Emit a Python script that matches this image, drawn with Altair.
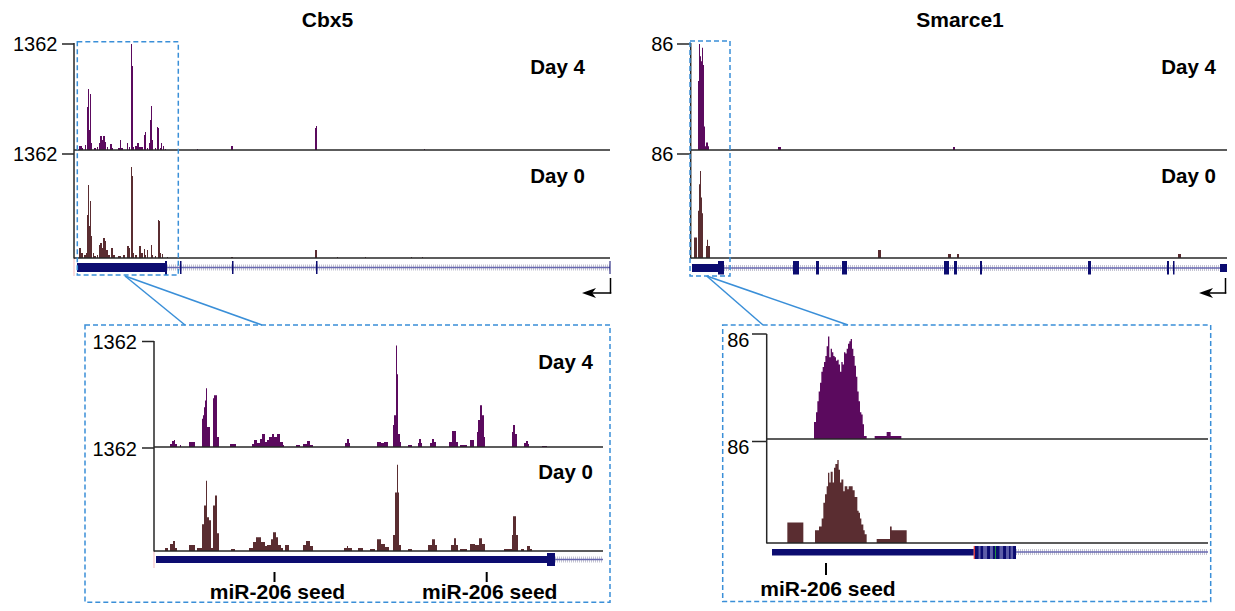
import altair as alt
import pandas as pd

# ---------------- data ----------------
# Top panels: read coverage along each locus, (start bin, end bin, reads); 1 bin ~ 100 bp
CBX5_DAY4 = [(5, 8, 51), (8, 9, 26), (11, 12, 64), (13, 14, 553), (14, 15, 784), (15, 16, 257),
             (16, 17, 720), (17, 18, 90), (20, 22, 26), (23, 24, 39), (25, 26, 90), (26, 28, 180),
             (28, 29, 128), (29, 31, 180), (31, 32, 103), (33, 34, 39), (36, 38, 77), (38, 39, 26),
             (44, 46, 26), (46, 47, 128), (47, 49, 26), (53, 54, 90), (55, 56, 39), (57, 58, 1362),
             (58, 59, 1080), (59, 60, 39), (61, 63, 51), (63, 65, 90), (65, 69, 39), (70, 71, 193),
             (71, 72, 231), (73, 74, 26), (75, 76, 90), (76, 77, 386), (77, 78, 565), (78, 79, 128),
             (81, 82, 26), (83, 84, 296), (84, 85, 283), (86, 87, 26), (87, 88, 90), (89, 90, 51),
             (91, 92, 13), (123, 124, 13), (157, 159, 51), (241, 242, 283), (242, 243, 308), (350, 351, 13)]
CBX5_DAY0 = [(5, 7, 131), (7, 9, 66), (10, 12, 39), (12, 13, 66), (13, 14, 563), (14, 15, 956),
             (15, 16, 419), (16, 17, 747), (17, 18, 288), (19, 20, 66), (20, 22, 26), (23, 24, 39),
             (25, 26, 170), (26, 28, 197), (28, 29, 131), (29, 31, 262), (31, 32, 223), (32, 34, 105),
             (34, 36, 39), (37, 39, 131), (39, 41, 39), (44, 47, 26), (49, 51, 39), (53, 55, 157),
             (55, 56, 131), (57, 58, 1192), (58, 59, 1074), (59, 60, 66), (61, 63, 39), (65, 67, 157),
             (67, 69, 66), (70, 71, 118), (71, 72, 39), (73, 74, 105), (77, 78, 170), (78, 79, 39),
             (81, 82, 26), (84, 85, 498), (85, 86, 485), (86, 87, 66), (88, 89, 52), (93, 94, 13),
             (157, 159, 13), (241, 243, 105), (263, 264, 13), (291, 292, 13), (337, 338, 13), (348, 349, 13)]
SMARCE1_DAY4 = [(8, 9, 56), (9, 10, 86), (10, 11, 76), (11, 12, 72), (12, 13, 83), (13, 14, 69),
                (14, 15, 19), (15, 16, 3), (16, 18, 6), (18, 19, 3), (88, 91, 2.4), (263, 265, 2.4)]
SMARCE1_DAY0 = [(4, 7, 17), (8, 9, 39), (9, 10, 61), (10, 11, 72), (11, 12, 50), (12, 13, 37),
                (16, 17, 10), (17, 18, 15), (18, 20, 10), (188, 191, 6.6), (258, 261, 3.3),
                (267, 269, 3.3), (488, 491, 3.3)]

# Zoomed 3' UTR panels: finer bins
CBX5_UTR_DAY4 = [(15, 17, 39), (17, 19, 77), (19, 20, 90), (20, 22, 39), (25, 26, 26), (34, 40, 64),
                 (47, 48, 364), (48, 49, 411), (49, 50, 514), (50, 51, 600), (51, 52, 758), (52, 55, 257),
                 (58, 59, 630), (59, 62, 668), (62, 64, 128), (75, 81, 39), (97, 99, 39), (99, 102, 90),
                 (102, 105, 51), (105, 107, 103), (107, 110, 167), (110, 112, 64), (112, 114, 90),
                 (114, 117, 128), (117, 119, 167), (119, 122, 128), (122, 125, 167), (125, 128, 64),
                 (128, 129, 26), (141, 145, 26), (148, 152, 39), (152, 155, 77), (155, 158, 26),
                 (190, 192, 51), (192, 194, 103), (194, 195, 51), (222, 226, 64), (226, 229, 51),
                 (229, 233, 64), (238, 239, 283), (239, 241, 411), (241, 242, 1310), (242, 243, 938),
                 (243, 245, 167), (245, 246, 64), (253, 257, 26), (263, 264, 51), (264, 266, 103),
                 (266, 267, 51), (275, 277, 51), (277, 279, 103), (279, 281, 64), (294, 297, 64),
                 (297, 301, 206), (301, 303, 64), (305, 312, 26), (315, 319, 90), (322, 323, 193),
                 (323, 325, 347), (325, 327, 540), (327, 329, 411), (329, 330, 128), (357, 358, 193),
                 (358, 360, 283), (360, 362, 167), (369, 371, 51), (371, 373, 77), (373, 374, 39),
                 (387, 392, 13)]
CBX5_UTR_DAY0 = [(10, 13, 39), (15, 18, 92), (18, 20, 131), (20, 22, 39), (34, 40, 79), (42, 47, 39),
                 (47, 49, 354), (49, 51, 603), (51, 52, 930), (52, 54, 445), (54, 56, 406), (56, 58, 39),
                 (58, 60, 603), (60, 62, 734), (62, 64, 236), (76, 80, 26), (94, 98, 39), (98, 101, 118),
                 (101, 106, 183), (106, 110, 118), (110, 112, 66), (112, 116, 79), (116, 118, 157),
                 (118, 121, 249), (121, 123, 183), (123, 126, 79), (126, 128, 39), (130, 134, 79),
                 (148, 151, 79), (151, 155, 131), (155, 158, 66), (189, 192, 39), (192, 193, 66),
                 (193, 197, 39), (203, 208, 39), (215, 220, 26), (222, 226, 157), (226, 230, 92),
                 (230, 234, 52), (238, 240, 210), (240, 242, 773), (242, 243, 1140), (243, 244, 773),
                 (244, 246, 79), (253, 257, 26), (273, 277, 79), (277, 280, 157), (280, 282, 79),
                 (296, 299, 79), (299, 301, 170), (301, 303, 79), (305, 312, 26), (315, 320, 92),
                 (320, 324, 79), (324, 327, 170), (327, 330, 92), (349, 357, 26), (357, 358, 210),
                 (358, 361, 459), (361, 363, 210), (366, 369, 26), (372, 375, 66), (375, 377, 26)]
SMARCE1_UTR_DAY4 = [(35.5, 37, 14), (37, 38, 22), (38, 39, 31), (39, 40, 39), (40, 41, 46), (41, 42, 55),
                    (42, 43, 59), (43, 44, 63), (44, 45, 68), (45, 46, 76), (46, 47, 84), (47, 48, 67),
                    (48, 49, 74), (49, 50, 71), (50, 51, 68), (51, 52, 67), (52, 53, 64), (53, 54, 65),
                    (54, 55, 61), (55, 56, 55), (56, 57, 63), (57, 58, 61), (58, 59, 71), (59, 60, 70),
                    (60, 61, 74), (61, 62, 78), (62, 63, 80), (63, 64, 82), (64, 65, 74), (65, 66, 68),
                    (66, 67, 60), (67, 68, 51), (68, 69, 39), (69, 70, 31), (70, 71, 22), (71, 72, 20),
                    (72, 73, 12), (73, 75, 2.5), (81, 90, 2.5), (90, 93, 5.8), (93, 101, 2.5)]
SMARCE1_UTR_DAY0 = [(15.5, 27.5, 17.4), (36.25, 39.25, 10.8), (39.25, 41.25, 14), (41.25, 42.5, 20.7),
                    (42.5, 43.75, 34), (43.75, 45, 41.4), (45, 46, 48), (46, 47, 59.5), (47, 48, 51.3),
                    (48, 49.5, 60.4), (49.5, 50.5, 51.3), (50.5, 51.5, 63.7), (51.5, 53, 67), (53, 54, 70.3),
                    (54, 55, 62), (55, 56, 51.3), (56, 57.5, 53.8), (57.5, 58.5, 43.8), (58.5, 60.5, 48),
                    (60.5, 61.5, 45.5), (61.5, 64.5, 48), (64.5, 66, 44.7), (66, 68, 38.9), (68, 69, 27.3),
                    (69, 70, 25.6), (70, 71, 20.7), (71, 72.5, 15.7), (72.5, 73.5, 10.8), (73.5, 75, 7.4),
                    (82.5, 92.5, 3.3), (92.5, 93.75, 14), (93.75, 95, 10.8), (95, 105, 10.8)]

CBX5_MAX = 1362
SMARCE1_MAX = 86
TRACK_NAMES = ["Day 4", "Day 0"]
GENES = ["Cbx5", "Smarce1"]
SEED_LABEL = "miR-206 seed"

# gene models (bins)
CBX5_LOCUS = (0, 536)
CBX5_UTR = [(3, 91)]
CBX5_CDS = [(91, 93)]
CBX5_EXONS = [(106, 107.5), (158, 159.5), (242, 243.5), (535.5, 536.5)]
CBX5_INTRON = (93, 536)
SMARCE1_LOCUS = (0, 545)
SMARCE1_UTR = [(2, 28), (530, 545)]
SMARCE1_CDS = [(28, 34), (103, 109), (126, 129), (152, 157), (254, 259), (264, 267), (290, 292),
               (398, 401), (477, 479), (483, 484.5)]
SMARCE1_INTRON = (34, 545)
CBX5_ZOOM = (3.3, 104.3)
SMARCE1_ZOOM = (0, 40)

CBX5_Z_LOCUS = (0, 448)
CBX5_Z_UTR = [(1, 392)]
CBX5_Z_CDS = [(392, 400)]
CBX5_Z_INTRON = (400, 448)
SMARCE1_Z_LOCUS = (0, 332.5)
SMARCE1_Z_UTR = [(4, 155.3)]
SMARCE1_Z_STOP = [(155.3, 156.1)]
SMARCE1_Z_CDS = [(156.1, 187)]
SMARCE1_Z_STRIPES = [(158.9, 160.4), (162.3, 165.3), (167.5, 169.7), (174.6, 177.3), (179.5, 181.8),
                     (182.9, 184.8)]
SMARCE1_Z_MARK = [(171.3, 171.8)]
SMARCE1_Z_INTRON = (187, 331)
CBX5_SEEDS = [119.5, 331.7]
SMARCE1_SEEDS = [44.5]

# ---------------- styles ----------------
FONT = "Liberation Sans"
D4 = "#5b0a5e"
D0 = "#5a2d31"
GENE = "#0c0c70"
INTRON = "#6868b0"
HATCH = "#c4c4d2"
AXIS = "#262626"
BOX = "#3a8fd8"


def P(v):
    return v - 8  # page pixel -> chart pixel


one = pd.DataFrame({"a": [0]})


def xsc(dom, r0, r1):
    return alt.Scale(domain=list(dom), range=[P(r0), P(r1)], zero=False, nice=False)


def ysc(maxv, base, top):
    return alt.Scale(domain=[0, maxv], range=[P(base), P(top)], zero=False, nice=False)


def step_table(rows):
    """Turn (start, end, value) bins into the point list of a step-after area."""
    rows = sorted(rows)
    pts = []
    for i, (s, e, v) in enumerate(rows):
        pts.append((s, v))
        nxt = rows[i + 1][0] if i + 1 < len(rows) else None
        if nxt is None or nxt > e:
            pts.append((e, 0))
    df = pd.DataFrame(pts, columns=["x", "v"])
    df["z"] = 0
    return df


def track(rows, xs, ys, color):
    return alt.Chart(step_table(rows)).mark_area(interpolate="step-after", color=color, opacity=1).encode(
        x=alt.X("x:Q", scale=xs, axis=None),
        y=alt.Y("v:Q", scale=ys, axis=None), y2="z:Q")


def baseline(xs, x0, x1, ys):
    df = pd.DataFrame({"x0": [x0], "x1": [x1], "y": [0]})
    return alt.Chart(df).mark_rule(color=AXIS, strokeWidth=1.5).encode(
        x=alt.X("x0:Q", scale=xs, axis=None), x2="x1:Q",
        y=alt.Y("y:Q", scale=ys, axis=None))


def axis(x_line, y_top, y_bot, tick_x0, label_x, tracks, dy):
    out = [alt.Chart(one).mark_rule(color=AXIS, strokeWidth=1.5).encode(
        x=alt.value(P(x_line)), y=alt.value(P(y_top)), y2=alt.value(P(y_bot)))]
    for ys, maxv in tracks:
        df = pd.DataFrame({"v": [maxv], "lab": [str(maxv)]})
        out.append(alt.Chart(df).mark_rule(color=AXIS, strokeWidth=1.5).encode(
            x=alt.value(P(tick_x0)), x2=alt.value(P(x_line)),
            y=alt.Y("v:Q", scale=ys, axis=None)))
        out.append(alt.Chart(df).mark_text(align="right", baseline="alphabetic", dy=dy, font=FONT,
                                           fontSize=20, color="black").encode(
            x=alt.value(P(label_x)), y=alt.Y("v:Q", scale=ys, axis=None), text="lab:N"))
    return out


def rects(rows, xs, y0, y1, color):
    df = pd.DataFrame(rows, columns=["s", "e"])
    return alt.Chart(df).mark_rect(color=color).encode(
        x=alt.X("s:Q", scale=xs, axis=None), x2="e:Q",
        y=alt.value(P(y0)), y2=alt.value(P(y1)))


def intron(span, xs, yc):
    df = pd.DataFrame([span], columns=["s", "e"])
    enc = dict(x=alt.X("s:Q", scale=xs, axis=None), x2="e:Q", y=alt.value(P(yc)))
    return [alt.Chart(df).mark_rule(color=HATCH, strokeWidth=6, strokeDash=[1, 1]).encode(**enc),
            alt.Chart(df).mark_rule(color=INTRON, strokeWidth=1.5).encode(**enc)]


def text(t, x, y, size=21, bold=True, align="center"):
    return alt.Chart(one).mark_text(text=t, font=FONT, fontSize=size,
                                    fontWeight="bold" if bold else "normal",
                                    align=align, baseline="alphabetic", color="black").encode(
        x=alt.value(P(x)), y=alt.value(P(y)))


def vrule(x, y0, y1, color, w=1.5):
    return alt.Chart(one).mark_rule(color=color, strokeWidth=w).encode(
        x=alt.value(P(x)), y=alt.value(P(y0)), y2=alt.value(P(y1)))


def seg(x0, y0, x1, y1, color, w=1.5):
    return alt.Chart(one).mark_rule(color=color, strokeWidth=w).encode(
        x=alt.value(P(x0)), y=alt.value(P(y0)), x2=alt.value(P(x1)), y2=alt.value(P(y1)))


def zoom_box(xs, span, y0, y1):
    df = pd.DataFrame([span], columns=["s", "e"])
    return alt.Chart(df).mark_rect(fillOpacity=0, stroke=BOX, strokeWidth=1.5, strokeDash=[5, 3]).encode(
        x=alt.X("s:Q", scale=xs, axis=None), x2="e:Q", y=alt.value(P(y0)), y2=alt.value(P(y1)))


def page_box(x0, y0, x1, y1):
    return alt.Chart(one).mark_rect(fillOpacity=0, stroke=BOX, strokeWidth=1.5, strokeDash=[5, 3]).encode(
        x=alt.value(P(x0)), x2=alt.value(P(x1)), y=alt.value(P(y0)), y2=alt.value(P(y1)))


ARROW = "M-1,0 L1,-0.7 L0.45,0 L1,0.7 Z"


def arrow(x_right, x_tip):
    return [vrule(x_right, 278, 293.5, "black"),
            seg(x_tip + 4, 293, x_right + 0.75, 293, "black"),
            alt.Chart(one).mark_point(shape=ARROW, filled=True, size=196, color="black", opacity=1,
                                      strokeWidth=0).encode(
                x=alt.value(P(x_tip + 7)), y=alt.value(P(293)))]


def seeds(pos, xs, y0, y1, ylab, dx):
    df = pd.DataFrame({"p": pos, "lab": [SEED_LABEL] * len(pos)})
    return [alt.Chart(df).mark_rule(color="black", strokeWidth=2).encode(
                x=alt.X("p:Q", scale=xs, axis=None), y=alt.value(P(y0)), y2=alt.value(P(y1))),
            alt.Chart(df).mark_text(font=FONT, fontSize=21, fontWeight="bold", dx=dx,
                                    baseline="alphabetic", color="black").encode(
                x=alt.X("p:Q", scale=xs, axis=None), y=alt.value(P(ylab)), text="lab:N")]


layers = []

# ---------------- scales ----------------
cx = xsc(CBX5_LOCUS, 74, 610)
sx = xsc(SMARCE1_LOCUS, 690, 1235)
czx = xsc(CBX5_Z_LOCUS, 155, 603)
szx = xsc(SMARCE1_Z_LOCUS, 766.67, 1210)

cy4, cy0 = ysc(CBX5_MAX, 150, 44), ysc(CBX5_MAX, 258, 154)
sy4, sy0 = ysc(SMARCE1_MAX, 150, 44), ysc(SMARCE1_MAX, 258, 154)
czy4, czy0 = ysc(CBX5_MAX, 447, 341.5), ysc(CBX5_MAX, 551, 448)
szy4, szy0 = ysc(SMARCE1_MAX, 439, 334), ysc(SMARCE1_MAX, 543, 441.5)

# ---------------- Cbx5 locus ----------------
layers += [vrule(74, 258, 276, "#f3b9b9", 1)]
layers += intron(CBX5_INTRON, cx, 267.5)
layers += [rects(CBX5_UTR, cx, 263, 272, GENE), rects(CBX5_CDS, cx, 261, 275, GENE),
           rects(CBX5_EXONS, cx, 261, 274, GENE)]
layers += [track(CBX5_DAY4, cx, cy4, D4), track(CBX5_DAY0, cx, cy0, D0),
           baseline(cx, 0, 536, cy4), baseline(cx, 0, 536, cy0)]
layers += axis(74, 43, 258.5, 62, 57.5, [(cy4, CBX5_MAX), (cy0, CBX5_MAX)], 7)
layers += [text(GENES[0], 327.5, 27), text(TRACK_NAMES[0], 585, 74, 20.5, align="right"),
           text(TRACK_NAMES[1], 585, 183, 20.5, align="right")]
layers += arrow(610.5, 582)

# ---------------- Smarce1 locus ----------------
layers += intron(SMARCE1_INTRON, sx, 268)
layers += [rects(SMARCE1_UTR, sx, 264, 272, GENE), rects(SMARCE1_CDS, sx, 261, 274.5, GENE)]
layers += [track(SMARCE1_DAY4, sx, sy4, D4), track(SMARCE1_DAY0, sx, sy0, D0),
           baseline(sx, 0, 545, sy4), baseline(sx, 0, 545, sy0)]
layers += axis(690.7, 43, 258.5, 677, 673.5, [(sy4, SMARCE1_MAX), (sy0, SMARCE1_MAX)], 7)
layers += [text(GENES[1], 960, 27), text(TRACK_NAMES[0], 1216, 74, 20.5, align="right"),
           text(TRACK_NAMES[1], 1216, 183, 20.5, align="right")]
layers += arrow(1225.5, 1199)

# ---------------- Cbx5 3'UTR zoom ----------------
layers += [vrule(154, 551, 568, "#f3b9b9", 1)]
layers += intron(CBX5_Z_INTRON, czx, 559.5)
layers += [rects(CBX5_Z_UTR, czx, 556, 563, GENE), rects(CBX5_Z_CDS, czx, 553, 566, GENE)]
layers += [track(CBX5_UTR_DAY4, czx, czy4, D4), track(CBX5_UTR_DAY0, czx, czy0, D0),
           baseline(czx, -1, 448, czy4), baseline(czx, -1, 448, czy0)]
layers += axis(154, 341, 551.5, 142, 137, [(czy4, CBX5_MAX), (czy0, CBX5_MAX)], 7.5)
layers += [text(TRACK_NAMES[0], 593, 369, 20.5, align="right"),
           text(TRACK_NAMES[1], 593, 479, 20.5, align="right")]
layers += seeds(CBX5_SEEDS, czx, 572, 582, 598.5, 3)

# ---------------- Smarce1 3'UTR zoom ----------------
layers += intron(SMARCE1_Z_INTRON, szx, 552)
layers += [rects(SMARCE1_Z_UTR, szx, 549, 555.5, GENE), rects(SMARCE1_Z_CDS, szx, 546, 559, GENE),
           rects(SMARCE1_Z_STRIPES, szx, 546, 559, "#5d5da8"), rects(SMARCE1_Z_STOP, szx, 546, 559, "#e01818"),
           rects(SMARCE1_Z_MARK, szx, 546, 559, "#2bd12b")]
layers += [track(SMARCE1_UTR_DAY4, szx, szy4, D4), track(SMARCE1_UTR_DAY0, szx, szy0, D0),
           baseline(szx, 0, 331, szy4), baseline(szx, 0, 331, szy0)]
layers += axis(766.7, 334, 543.5, 752, 749.5, [(szy4, SMARCE1_MAX), (szy0, SMARCE1_MAX)], 12.5)
layers += seeds(SMARCE1_SEEDS, szx, 563, 575, 595.5, 2)

# ---------------- zoom boxes and connectors ----------------
layers += [zoom_box(cx, CBX5_ZOOM, 41.7, 275), zoom_box(sx, SMARCE1_ZOOM, 41, 276),
           page_box(85, 325, 610, 602.3), page_box(722.7, 325, 1210.7, 601.5),
           seg(125, 276, 185, 325, BOX), seg(125, 276, 262, 325, BOX),
           seg(706.7, 276, 763, 325, BOX), seg(706.7, 276, 848, 325, BOX)]

chart = alt.layer(*layers).resolve_scale(x="independent", y="independent").properties(
    width=1219, height=595, padding=0, autosize="none", background="white"
).configure_view(strokeWidth=0)

chart.save("out.html", embed_options={"renderer": "svg", "actions": False})
